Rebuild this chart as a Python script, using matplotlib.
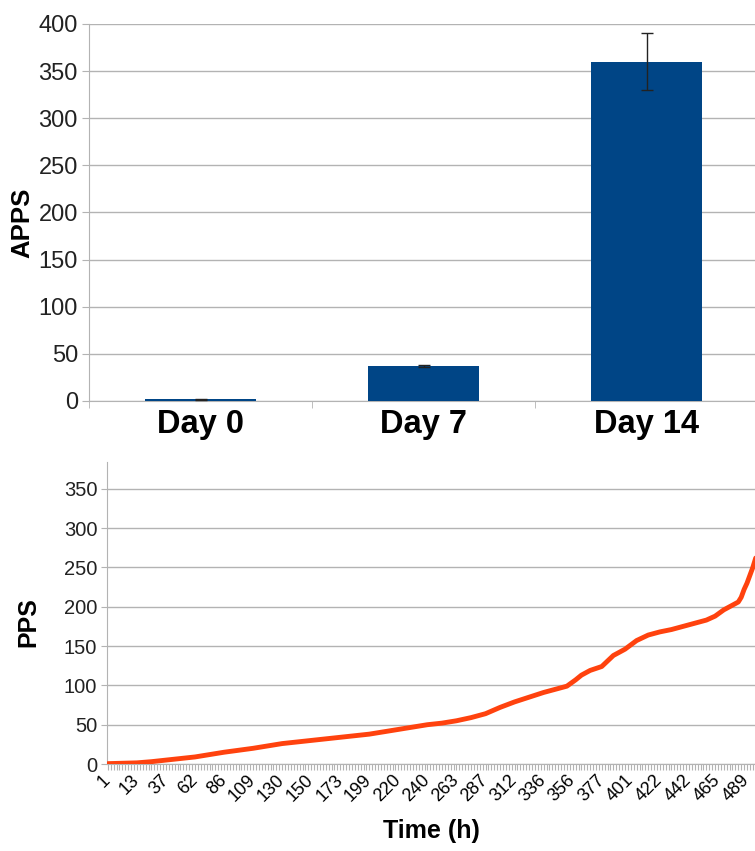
import numpy as np
import matplotlib
matplotlib.use("Agg")
import matplotlib.pyplot as plt
from matplotlib.ticker import MultipleLocator

plt.rcParams['font.family'] = ['Liberation Sans', 'DejaVu Sans']

# top panel: APPS per day
days = ['Day 0', 'Day 7', 'Day 14']
apps = [2, 37, 360]
apps_err = [0.5, 1, 30]

# bottom panel: PPS against sample number (time labels shown every 10th sample)
time_labels = ['1', '13', '37', '62', '86', '109', '130', '150', '173', '199', '220',
               '240', '263', '287', '312', '336', '356', '377', '401', '422', '442',
               '465', '489']
sample_idx = [0, 5, 10, 15, 20, 25, 30, 35, 40, 45, 50, 55, 60, 65, 70, 75, 80, 85,
              90, 95, 100, 105, 110, 115, 120, 125, 130, 135, 140, 145, 150, 155, 158,
              161, 163, 166, 170, 174, 178, 182, 186, 190, 194, 198, 202, 206, 209,
              212, 215, 217, 218, 219, 220, 221, 222, 223]
pps = [0.5, 1, 1.5, 3, 5, 7, 9, 12, 15, 17.5, 20, 23, 26, 28, 30, 32, 34, 36,
       38, 41, 44, 47, 50, 52, 55, 59, 64, 72, 79, 85, 91, 96, 99,
       107, 113, 119, 124, 138, 146, 157, 164, 168, 171, 175, 179, 183, 188,
       196, 202, 206, 212, 222, 230, 240, 250, 262]

grid_c = '#b3b3b3'
fig = plt.figure(figsize=(7.55, 8.51), dpi=100)

# ---- top bar chart
ax1 = fig.add_axes([0.1179, 0.5288, 0.8861, 0.4430])
x = np.arange(len(days))
ax1.bar(x, apps, width=0.5, color='#004586', zorder=3)
ax1.errorbar(x, apps, yerr=apps_err, fmt='none', ecolor='#222222', elinewidth=1,
             capsize=4.3, capthick=1, zorder=4)
ax1.set_xlim(-0.5, len(days) - 0.5)
ax1.set_ylim(0, 400)
ax1.yaxis.set_major_locator(MultipleLocator(50))
ax1.yaxis.grid(True, color=grid_c, lw=1, zorder=0)
ax1.set_xticks(x)
ax1.set_xticklabels(days, fontsize=23.5, fontweight='bold')
ax1.set_xticks(np.arange(-0.5, len(days)), minor=True)
ax1.tick_params(axis='x', which='major', length=0, pad=6)
ax1.tick_params(axis='x', which='minor', length=5, color=grid_c)
ax1.tick_params(axis='y', labelsize=17, length=5, color=grid_c, labelcolor='#222222', pad=3)
for s in ['top', 'right']:
    ax1.spines[s].set_visible(False)
for s in ['left', 'bottom']:
    ax1.spines[s].set_color(grid_c)
ax1.set_ylabel('APPS', fontsize=18.5, fontweight='bold')
ax1.yaxis.set_label_coords(-0.081, 0.472)

# ---- bottom line chart
ax2 = fig.add_axes([0.1417, 0.1022, 0.8583, 0.3549])
ax2.plot(sample_idx, pps, color='#ff420e', lw=3.5, solid_capstyle='round', zorder=3)
ax2.set_xlim(-0.3, 222.75)
ax2.set_ylim(0, 384)
ax2.yaxis.set_major_locator(MultipleLocator(50))
ax2.yaxis.grid(True, color=grid_c, lw=1, zorder=0)
ax2.set_xticks(np.arange(0, 10 * len(time_labels), 10))
ax2.set_xticklabels(time_labels, rotation=45, ha='right', va='center',
                    rotation_mode='anchor', fontsize=13)
ax2.xaxis.set_minor_locator(MultipleLocator(1))
ax2.tick_params(axis='x', which='both', length=4, color=grid_c, width=0.8, pad=6)
ax2.tick_params(axis='y', labelsize=14.5, length=4, color=grid_c, labelcolor='#222222', pad=3)
for s in ['top', 'right']:
    ax2.spines[s].set_visible(False)
for s in ['left', 'bottom']:
    ax2.spines[s].set_color(grid_c)
ax2.set_ylabel('PPS', fontsize=18, fontweight='bold')
ax2.yaxis.set_label_coords(-0.103, 0.47)
ax2.set_xlabel('Time (h)', fontsize=18, fontweight='bold', labelpad=10)

fig.savefig('out.png', dpi=100)
